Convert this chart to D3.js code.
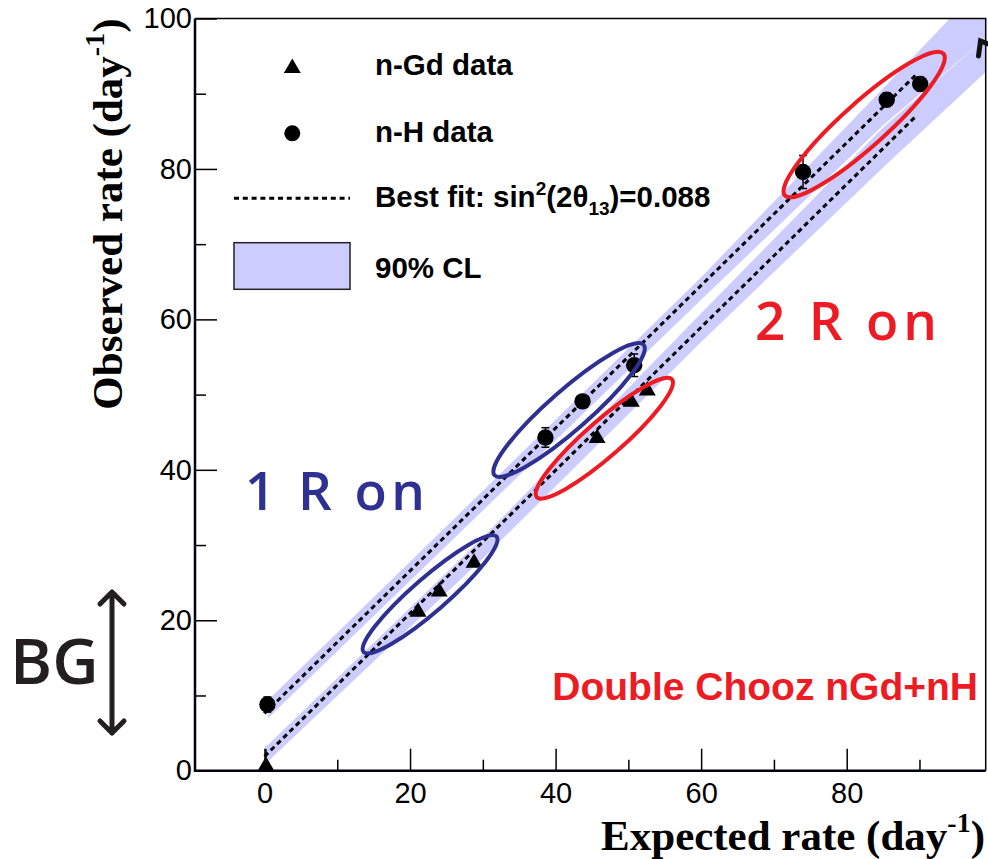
<!DOCTYPE html>
<html>
<head>
<meta charset="utf-8">
<script src="https://cdn.jsdelivr.net/npm/d3@7"></script>
<style>
  body { margin: 0; background: #fff; }
  svg { display: block; }
</style>
</head>
<body>
<div id="chart"></div>
<script>
// --- values (rates in day^-1)
const gdExpected = [0.2, 21.1, 24.0, 28.8, 45.7, 50.4, 52.6];
const gdObserved = [0.9, 21.4, 24.1, 27.9, 44.5, 49.3, 50.8];
const gdError    = [2.0, 0.5, 0.5, 0.6, 0.6, 0.6, 0.6];

const hExpected = [0.4, 38.6, 43.7, 50.8, 74.0, 85.5, 90.1];
const hObserved = [8.8, 44.3, 49.1, 53.9, 79.6, 89.2, 91.3];
const hError    = [1.0, 1.3, 0.8, 1.5, 2.2, 0.9, 0.9];

// best fit lines (end points)
const fitExpected = [0, 89.5];
const gdFit = [1.9, 87.0];
const hFit  = [7.6, 92.5];

// 90% CL bands
const gdBandExpected = [0, 30, 60, 85, 99.1];
const gdBandLow  = [0.8, 28.2, 57.0, 80.2, 92.9];
const gdBandHigh = [3.0, 31.0, 60.8, 85.5, 97.4];
const hBandExpected = [0.5, 30, 60, 85, 99.1];
const hBandLow  = [7.0, 34.6, 62.6, 85.8, 97.4];
const hBandHigh = [9.4, 37.2, 65.6, 90.7, 105];

// ellipses drawn round groups of points: tip to tip, in data units
const ellipseTips = [
  [[71.3, 76.3], [93.5, 95.5]],
  [[31.4, 39.1], [52.3, 56.8]],
  [[37.2, 36.2], [56.2, 52.2]],
  [[13.4, 15.6], [32.1, 31.3]]
];
const ellipseColors = ['#ed1c24', '#2e3192', '#ed1c24', '#2e3192'];
const ellipseHalfWidth = [22, 20, 18, 17];

const xDomain = [-9.55, 99.1];
const yDomain = [0, 100];
const xMajorTicks = [0, 20, 40, 60, 80];
const xMinorTicks = [10, 30, 50, 70, 90];
const yMajorTicks = [0, 20, 40, 60, 80, 100];
const yMinorTicks = [10, 30, 50, 70, 90];

const legendLabels = ['n-Gd data', 'n-H data', 'Best fit', '90% CL'];

const ratesChart = function() {
  let width;
  let height;

  const frame = { left: 195, right: 985.7, top: 18.5, bottom: 770.7 };
  const x = d3.scaleLinear().domain(xDomain).range([frame.left, frame.right]);
  const y = d3.scaleLinear().domain(yDomain).range([frame.bottom, frame.top]);

  const red = '#ed1c24';
  const blue = '#2e3192';
  const band = '#ccccff';
  const triPath = 'M0,-7.5L8.5,7L-8.5,7Z';
  const dash = '5,3.8';

  function inner(selection) {
    selection.each(function() {
      const svg = d3.select(this).append('svg')
        .attr('width', width)
        .attr('height', height);

      svg.append('clipPath').attr('id', 'frameClip')
        .append('rect')
        .attr('x', frame.left).attr('y', frame.top)
        .attr('width', frame.right - frame.left)
        .attr('height', frame.bottom - frame.top);

      const plot = svg.append('g').attr('clip-path', 'url(#frameClip)');

      // bands
      const area = d3.area()
        .x(d => x(d[0])).y0(d => y(d[1])).y1(d => y(d[2]));
      plot.append('path')
        .attr('d', area(gdBandExpected.map((e, i) => [e, gdBandLow[i], gdBandHigh[i]])))
        .attr('fill', band);
      plot.append('path')
        .attr('d', area(hBandExpected.map((e, i) => [e, hBandLow[i], hBandHigh[i]])))
        .attr('fill', band);

      // best fit lines
      const line = d3.line().x(d => x(d[0])).y(d => y(d[1]));
      [gdFit, hFit].forEach(fit => {
        plot.append('path')
          .attr('d', line(fitExpected.map((e, i) => [e, fit[i]])))
          .attr('fill', 'none')
          .attr('stroke', '#000')
          .attr('stroke-width', 3)
          .attr('stroke-dasharray', dash);
      });

      // ellipses
      ellipseTips.forEach((tips, i) => {
        const x1 = x(tips[0][0]), y1 = y(tips[0][1]);
        const x2 = x(tips[1][0]), y2 = y(tips[1][1]);
        const len = Math.hypot(x2 - x1, y2 - y1);
        const ang = Math.atan2(y2 - y1, x2 - x1) * 180 / Math.PI;
        svg.append('ellipse')
          .attr('transform', `translate(${(x1 + x2) / 2},${(y1 + y2) / 2}) rotate(${ang})`)
          .attr('rx', len / 2 - 2)
          .attr('ry', ellipseHalfWidth[i])
          .attr('fill', 'none')
          .attr('stroke', ellipseColors[i])
          .attr('stroke-width', 4);
      });

      // error bars
      const gdPts = gdExpected.map((e, i) => ({ e: e, o: gdObserved[i], err: gdError[i] }));
      const hPts = hExpected.map((e, i) => ({ e: e, o: hObserved[i], err: hError[i] }));

      plot.selectAll('.gdErr').data(gdPts).enter().append('line')
        .attr('x1', d => x(d.e)).attr('x2', d => x(d.e))
        .attr('y1', d => y(d.o - d.err)).attr('y2', d => y(d.o + d.err))
        .attr('stroke', '#000').attr('stroke-width', 1.5);

      const hErr = plot.selectAll('.hErr').data(hPts).enter().append('g');
      hErr.append('line')
        .attr('x1', d => x(d.e)).attr('x2', d => x(d.e))
        .attr('y1', d => y(d.o - d.err)).attr('y2', d => y(d.o + d.err))
        .attr('stroke', '#000').attr('stroke-width', 1.5);
      hErr.selectAll('.cap').data(d => [d.o - d.err, d.o + d.err].map(v => [d.e, v]))
        .enter().append('line')
        .attr('x1', d => x(d[0]) - 4).attr('x2', d => x(d[0]) + 4)
        .attr('y1', d => y(d[1])).attr('y2', d => y(d[1]))
        .attr('stroke', '#000').attr('stroke-width', 1.5);

      // markers
      plot.selectAll('.gd').data(gdPts).enter().append('path')
        .attr('d', triPath)
        .attr('transform', d => `translate(${x(d.e)},${y(d.o)})`)
        .attr('fill', '#000');
      plot.selectAll('.nh').data(hPts).enter().append('circle')
        .attr('cx', d => x(d.e)).attr('cy', d => y(d.o)).attr('r', 8.2)
        .attr('fill', '#000');

      // axes, ROOT style ticks pointing inwards
      const tickFont = g => g.selectAll('text')
        .attr('font-family', 'Liberation Sans, Arial, sans-serif')
        .attr('font-size', 29).attr('fill', '#000');

      svg.append('g').attr('transform', `translate(0,${frame.bottom})`)
        .call(d3.axisBottom(x).tickValues(xMajorTicks).tickSizeInner(-22).tickSizeOuter(0).tickPadding(12))
        .call(tickFont)
        .call(g => g.select('.domain').remove());
      svg.append('g').attr('transform', `translate(0,${frame.bottom})`)
        .call(d3.axisBottom(x).tickValues(xMinorTicks).tickSizeInner(-11).tickSizeOuter(0).tickFormat(''))
        .call(g => g.select('.domain').remove());
      svg.append('g').attr('transform', `translate(${frame.left},0)`)
        .call(d3.axisLeft(y).tickValues(yMajorTicks).tickSizeInner(-22).tickSizeOuter(0).tickPadding(3))
        .call(tickFont)
        .call(g => g.select('.domain').remove());
      svg.append('g').attr('transform', `translate(${frame.left},0)`)
        .call(d3.axisLeft(y).tickValues(yMinorTicks).tickSizeInner(-11).tickSizeOuter(0).tickFormat(''))
        .call(g => g.select('.domain').remove());
      svg.selectAll('.tick line').attr('stroke', '#000').attr('stroke-width', 1.5);

      // frame
      svg.append('path')
        .attr('d', `M${frame.left},${frame.top}H${frame.right}V${frame.bottom}`)
        .attr('fill', 'none').attr('stroke', '#000').attr('stroke-width', 1.5);
      svg.append('path')
        .attr('d', `M${frame.left},${frame.top}V${frame.bottom}H${frame.right}`)
        .attr('fill', 'none').attr('stroke', '#000011').attr('stroke-width', 2.5);

      // axis titles
      const xt = svg.append('text')
        .attr('x', 985).attr('y', 850)
        .attr('text-anchor', 'end')
        .attr('font-family', 'Liberation Serif, Times New Roman, serif')
        .attr('font-weight', 'bold').attr('font-size', 43);
      xt.append('tspan').text('Expected rate (day');
      xt.append('tspan').attr('font-size', 28).attr('dy', -18).text('-1');
      xt.append('tspan').attr('dy', 18).text(')');

      const yt = svg.append('text')
        .attr('transform', `translate(122,${frame.top}) rotate(-90)`)
        .attr('text-anchor', 'end')
        .attr('font-family', 'Liberation Serif, Times New Roman, serif')
        .attr('font-weight', 'bold').attr('font-size', 43);
      yt.append('tspan').text('Observed rate (day');
      yt.append('tspan').attr('font-size', 28).attr('dy', -18).text('-1');
      yt.append('tspan').attr('dy', 18).text(')');

      // legend
      const lg = svg.append('g')
        .attr('font-family', 'Liberation Sans, Arial, sans-serif')
        .attr('font-weight', 'bold').attr('font-size', 29.5);
      lg.append('path').attr('d', triPath).attr('transform', 'translate(292.3,66)');
      lg.append('circle').attr('cx', 292.3).attr('cy', 133.3).attr('r', 8);
      lg.append('line').attr('x1', 234).attr('x2', 350).attr('y1', 198.3).attr('y2', 198.3)
        .attr('stroke', '#000').attr('stroke-width', 3).attr('stroke-dasharray', dash);
      lg.append('rect').attr('x', 234).attr('y', 242.7).attr('width', 116).attr('height', 46.6)
        .attr('fill', band).attr('stroke', '#222').attr('stroke-width', 1.5);

      lg.append('text').attr('x', 375).attr('y', 75).text(legendLabels[0]);
      lg.append('text').attr('x', 375).attr('y', 141.7).text(legendLabels[1]);
      const bf = lg.append('text').attr('x', 375).attr('y', 206.7);
      bf.append('tspan').text(legendLabels[2] + ': sin');
      bf.append('tspan').attr('font-size', 19).attr('dy', -12).text('2');
      bf.append('tspan').attr('dy', 12).text('(2\u03b8');
      bf.append('tspan').attr('font-size', 19).attr('dy', 8).text('13');
      bf.append('tspan').attr('dy', -8).text(')=0.088');
      lg.append('text').attr('x', 375).attr('y', 278.3).text(legendLabels[3]);

      // annotations
      svg.append('text').attr('x', 245).attr('y', 510)
        .attr('font-family', 'Open Sans, sans-serif').attr('font-weight', 600)
        .attr('font-size', 53).attr('fill', blue)
        .attr('textLength', 180).attr('lengthAdjust', 'spacing')
        .text('1 R on');
      svg.append('text').attr('x', 755).attr('y', 340)
        .attr('font-family', 'Open Sans, sans-serif').attr('font-weight', 600)
        .attr('font-size', 53).attr('fill', red)
        .attr('textLength', 182).attr('lengthAdjust', 'spacing')
        .text('2 R on');
      svg.append('text').attr('x', 978).attr('y', 700)
        .attr('text-anchor', 'end')
        .attr('font-family', 'Liberation Sans, Arial, sans-serif').attr('font-weight', 'bold')
        .attr('font-size', 39).attr('fill', red)
        .text('Double Chooz nGd+nH');

      // background arrow
      svg.append('text').attr('x', 10).attr('y', 684)
        .attr('font-family', 'Open Sans, sans-serif').attr('font-weight', 600)
        .attr('font-size', 64).attr('fill', '#231f20')
        .text('BG');
      svg.append('path')
        .attr('d', 'M112,592V733M100,604L112,592L124,604M100,721L112,733L124,721')
        .attr('fill', 'none').attr('stroke', '#231f20').attr('stroke-width', 5)
        .attr('stroke-linecap', 'round').attr('stroke-linejoin', 'round');

      // cut-off arrow at the top right corner
      svg.append('path')
        .attr('d', 'M978.5,56L980.5,41L988,44')
        .attr('fill', 'none').attr('stroke', '#111').attr('stroke-width', 5)
        .attr('stroke-linecap', 'round');
    });
  }

  inner.width = function(value) {
    if (!arguments.length) return width;
    width = value;
    return inner;
  };

  inner.height = function(value) {
    if (!arguments.length) return height;
    height = value;
    return inner;
  };

  return inner;
};

d3.select('#chart').call(ratesChart().width(988).height(859));
</script>
</body>
</html>
